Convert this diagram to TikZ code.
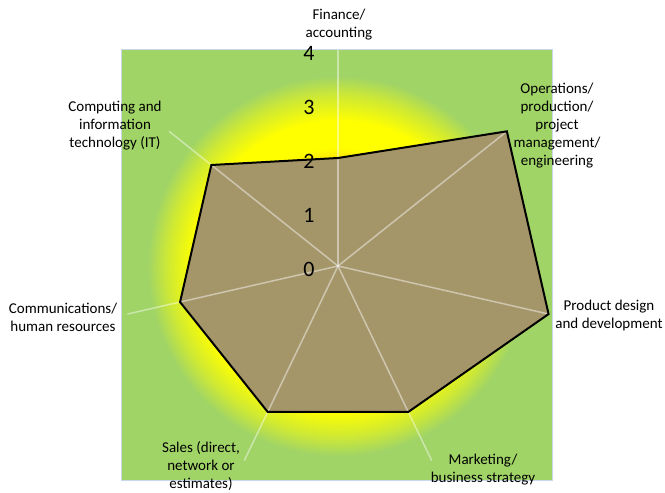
\documentclass[tikz,border=0pt]{standalone}
\usepackage{fontspec}
\setmainfont{Carlito}
\definecolor{chartgreen}{RGB}{160,212,102}
\definecolor{polyfill}{RGB}{165,150,106}
\definecolor{frameblue}{RGB}{200,215,235}
\definecolor{glowyellow}{RGB}{255,255,0}
\definecolor{gloworange}{RGB}{250,160,20}
\colorlet{glowmidA}{glowyellow!65!gloworange}
\colorlet{glowmidB}{glowyellow!50!chartgreen}
\pgfdeclareradialshading{glow}{\pgfpoint{0bp}{0bp}}{color(0bp)=(gloworange); color(12bp)=(glowmidA); color(13.7bp)=(glowyellow); color(16.8bp)=(glowyellow); color(19.7bp)=(glowmidB); color(22bp)=(chartgreen); color(50bp)=(chartgreen)}
\begin{document}
\begin{tikzpicture}[x=1pt,y=1pt,
  axisline/.style={draw=white,draw opacity=0.45,line width=1.5pt},
  profilefill/.style={fill=polyfill},
  profileline/.style={draw=black,line width=2pt},
  catlabel/.style={font=\fontsize{15}{18}\selectfont,align=center,text=black,inner sep=0pt},
  scalelabel/.style={font=\fontsize{22}{26}\selectfont,inner sep=0pt}]
\useasboundingbox (-338,-227) rectangle (327,266);
\fill[white] (-338,-227) rectangle (327,266);
\fill[chartgreen] (-216,-214) rectangle (215,216);
\begin{scope}
  \clip (-216,-214) rectangle (215,216);
  \shade[shading=glow] (0,0) circle (216);
\end{scope}
\draw[frameblue,line width=1pt] (-216,-214) rectangle (215,216);
\coordinate (O) at (0,0);
\foreach \i/\v in {0/2,1/4,2/4,3/3,4/3,5/3,6/3} {
  \coordinate (a\i) at ({90-\i*360/7}:216);
  \coordinate (v\i) at ({90-\i*360/7}:{54*\v});
}
\fill[profilefill] (v0) -- (v1) -- (v2) -- (v3) -- (v4) -- (v5) -- (v6) -- cycle;
\foreach \i in {0,...,6} {
  \draw[axisline] (O) -- (a\i);
}
\draw[profileline] (v0) -- (v1) -- (v2) -- (v3) -- (v4) -- (v5) -- (v6) -- cycle;
\foreach \k in {0,...,4} {
  \node[scalelabel] (s\k) at (-29,{54*\k-3.5}) {\k};
}
\node[catlabel] (finance) at (1,241) {Finance/\\accounting};
\node[catlabel] (operations) at (219,140) {Operations/\\production/\\project\\management/\\engineering};
\node[catlabel] (product) at (271,-50) {Product design\\and development};
\node[catlabel] (marketing) at (145,-204) {Marketing/\\business strategy};
\node[catlabel] (sales) at (-137,-200) {Sales (direct,\\network or\\estimates)};
\node[catlabel] (comms) at (-275,-51) {Communications/\\human resources};
\node[catlabel] (computing) at (-223,140) {Computing and\\information\\technology (IT)};
\end{tikzpicture}
\end{document}
